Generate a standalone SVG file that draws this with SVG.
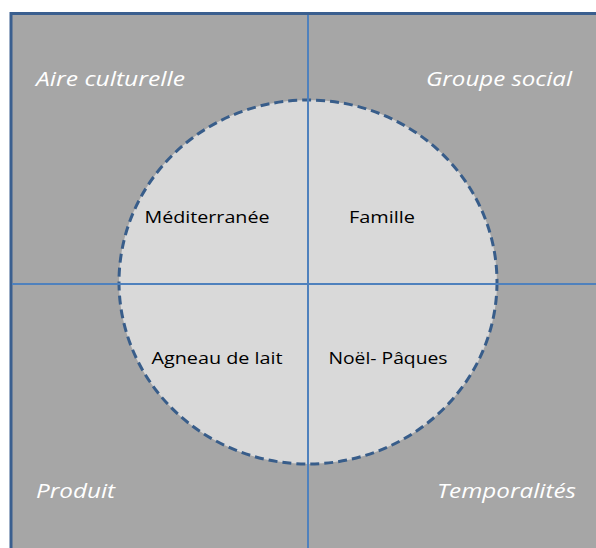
<svg xmlns="http://www.w3.org/2000/svg" width="596" height="548" viewBox="0 0 596 548">
<style>
.corner{font-family:"Open Sans","Liberation Sans",sans-serif;font-style:italic;font-size:20px;fill:#ffffff}
.inner{font-family:"Open Sans","Liberation Sans",sans-serif;font-size:16px;fill:#000000;text-anchor:middle}
.axis{stroke:#4f81bd;stroke-width:2;fill:none}
</style>
<rect x="0" y="0" width="596" height="548" fill="#ffffff"/>
<g id="background">
<rect x="11" y="13.5" width="600" height="550" fill="#a6a6a6" stroke="#3a5f8f" stroke-width="3"/>
</g>
<g id="circle">
<ellipse cx="308" cy="282" rx="189" ry="182" fill="#d9d9d9" stroke="#385d8a" stroke-width="3" stroke-dasharray="9,5"/>
</g>
<g id="connectors">
<line class="axis" x1="308" y1="15" x2="308" y2="548"/>
<line class="axis" x1="12" y1="284" x2="596" y2="284"/>
</g>
<g id="aire-culturelle"><text class="corner" x="36" y="86" textLength="149" lengthAdjust="spacingAndGlyphs">Aire culturelle</text></g>
<g id="groupe-social"><text class="corner" x="426" y="86" textLength="146" lengthAdjust="spacingAndGlyphs">Groupe social</text></g>
<g id="produit"><text class="corner" x="36" y="498" textLength="79" lengthAdjust="spacingAndGlyphs">Produit</text></g>
<g id="temporalites"><text class="corner" x="437" y="498" textLength="139" lengthAdjust="spacingAndGlyphs">Temporalités</text></g>
<g id="mediterranee"><text class="inner" x="207" y="223" textLength="125" lengthAdjust="spacingAndGlyphs">Méditerranée</text></g>
<g id="famille"><text class="inner" x="382" y="223" textLength="66" lengthAdjust="spacingAndGlyphs">Famille</text></g>
<g id="agneau"><text class="inner" x="217" y="364" textLength="131" lengthAdjust="spacingAndGlyphs">Agneau de lait</text></g>
<g id="noel"><text class="inner" x="388" y="364" textLength="119" lengthAdjust="spacingAndGlyphs">Noël- Pâques</text></g>
</svg>
